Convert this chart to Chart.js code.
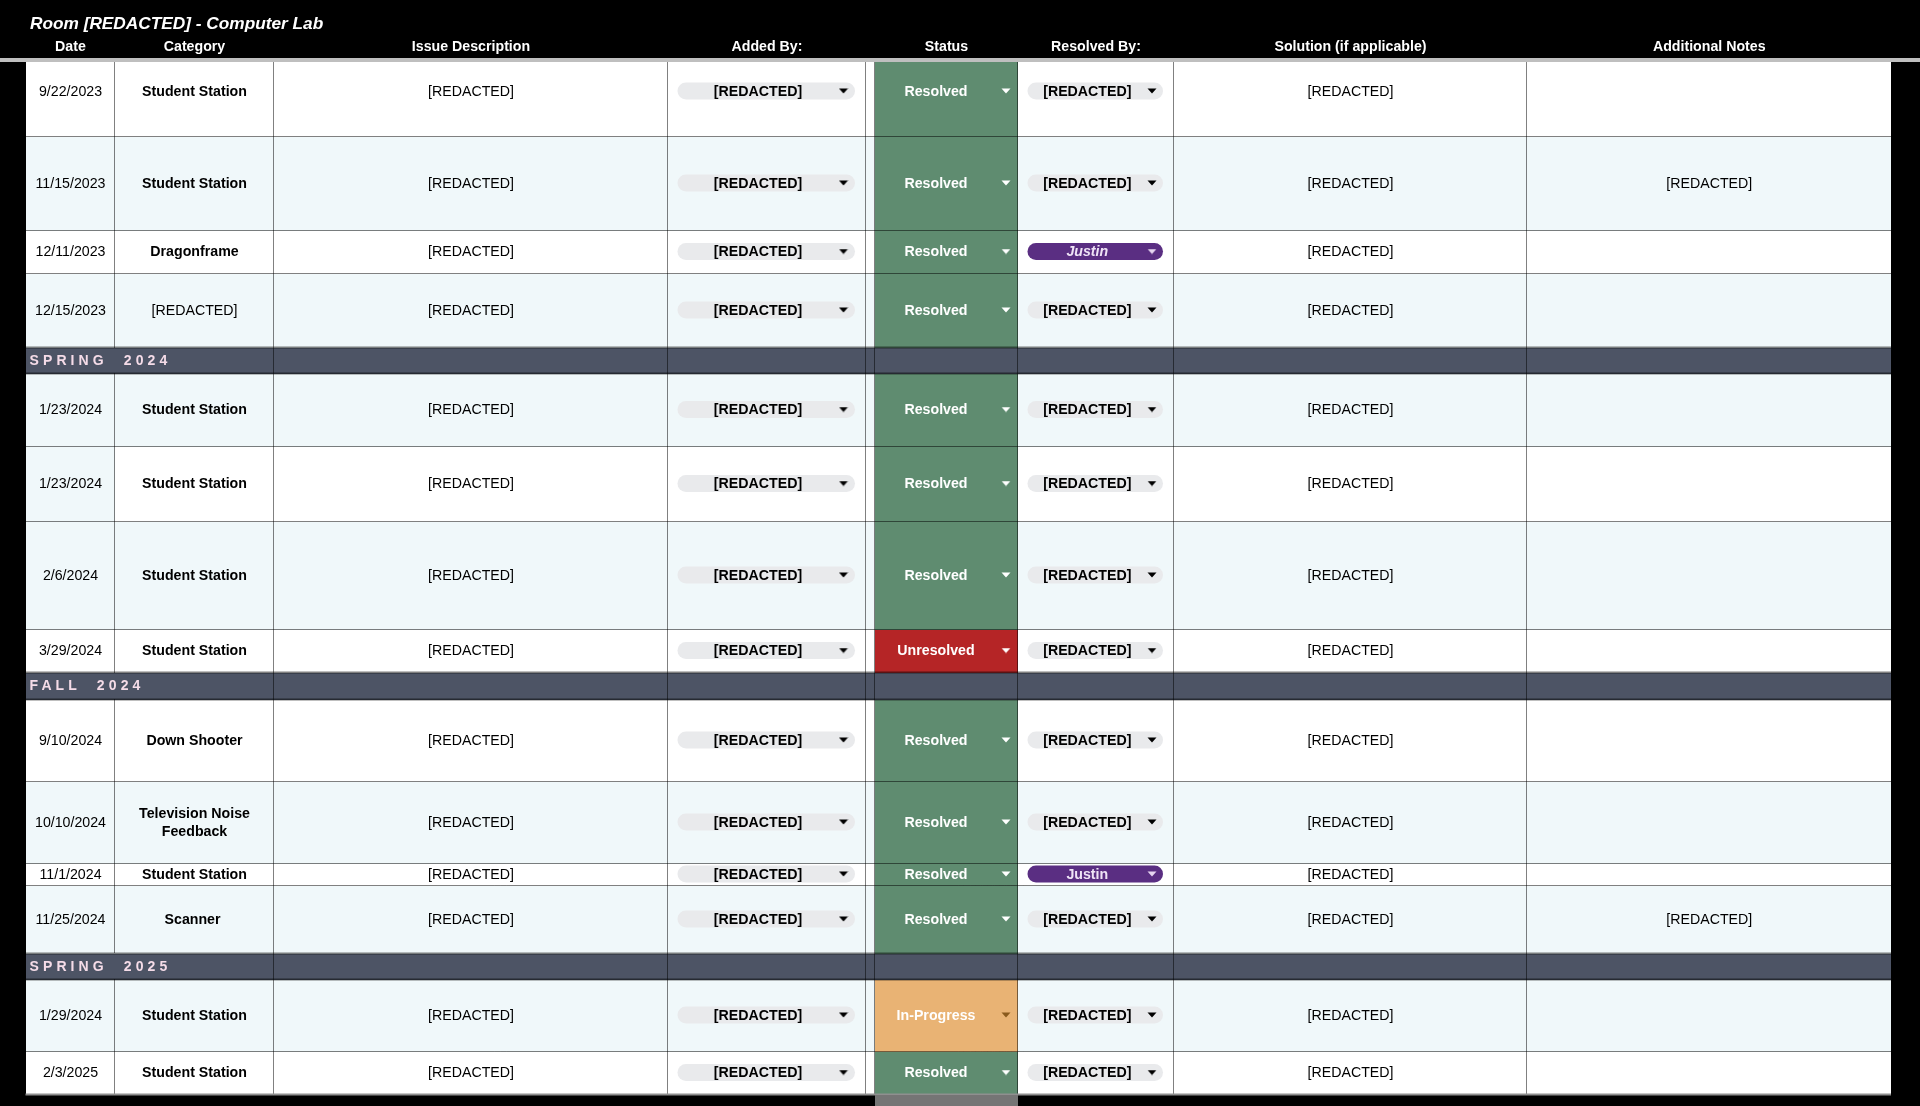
<!DOCTYPE html>
<html><head><meta charset="utf-8">
<style>html,body{margin:0;padding:0;background:#000}canvas{display:block}</style>
<script src="https://cdn.jsdelivr.net/npm/chart.js@4"></script></head>
<body><canvas id="c" width="1920" height="1106"></canvas>
<script>
// ---- table content ----
const title = 'Room [REDACTED] - Computer Lab';
const headers = ['Date','Category','Issue Description','Added By:','Status','Resolved By:','Solution (if applicable)','Additional Notes'];
const R = '[REDACTED]';
const sections = ['','','','','SPRING  2024','','','','','FALL  2024','','','','','SPRING  2025','',''];
const dates = ['9/22/2023','11/15/2023','12/11/2023','12/15/2023','','1/23/2024','1/23/2024','2/6/2024','3/29/2024','','9/10/2024','10/10/2024','11/1/2024','11/25/2024','','1/29/2024','2/3/2025'];
const categories = ['Student Station','Student Station','Dragonframe',R,'','Student Station','Student Station','Student Station','Student Station','','Down Shooter','Television Noise\nFeedback','Student Station','Scanner ','','Student Station','Student Station'];
const statuses = ['Resolved','Resolved','Resolved','Resolved','','Resolved','Resolved','Resolved','Unresolved','','Resolved','Resolved','Resolved','Resolved','','In-Progress','Resolved'];
const resolvedBy = [R,R,'Justin',R,'',R,R,R,R,'',R,R,'Justin',R,'',R,R];
const notes = ['',R,'','','','','','','','','','','',R,'','',''];
const italicNames = [2];           // rows whose name pill text is italic
const tintedRows = [1,3,5,7,11,13,15];
const tintedDateRows = [6];        // only the date cell is tinted

// ---- table geometry (column and row boundaries on the chart's axes) ----
const colEdges = [25.5,114.5,273.5,667.5,865.5,874.5,1017.5,1173.5,1526.5,1891];
const rowEdges = [46.5,136.5,230.5,273.5,347.5,373.5,446.5,521.5,629.5,672.5,699.5,781.5,863.5,885.5,953.5,979.5,1051.5,1094.5];
const chartW = 1920, chartH = 1106;

// ---- colours ----
const WHITE='#ffffff', TINT='#f0f8fa', SECTION='#4d5465', PILL='#e9eaec', PURPLE='#5a2e82';
const STATUS_FILL={'Resolved':'#5f8c70','Unresolved':'#b52526','In-Progress':'#e9b374'};
const FONT='"Liberation Sans", Arial, sans-serif';

const mid=(a,b)=>(a+b)/2;
const rowIdx=dates.map((_,i)=>i);
const isSection=i=>sections[i]!=='';
const rowCenter=i=>mid(rowEdges[i],rowEdges[i+1]);

function bar(data,color,thick,order,extra){
  return Object.assign({type:'bar',indexAxis:'y',grouped:false,barPercentage:10000,maxBarThickness:thick,
    data,backgroundColor:color,borderWidth:0,inflateAmount:0,order},extra||{});
}
function line(data,order,vertical,color,dash,width){
  return {type:'line',indexAxis:vertical?'y':'x',data,borderColor:color||'#000000',borderWidth:width||1,borderDash:dash||[1,1],
    pointRadius:0,fill:false,tension:0,spanGaps:false,order};
}
function arrow(color){
  const c=document.createElement('canvas');c.width=10;c.height=6;
  const g=c.getContext('2d');g.fillStyle=color;g.beginPath();g.moveTo(.5,.5);g.lineTo(9.5,.5);g.lineTo(5,5.5);g.closePath();g.fill();
  return c;
}
const datasets=[];
// cells: one bar dataset for each row, one floating bar per column (edges snapped to whole pixels)
rowIdx.forEach(i=>{
  const data=[],fills=[];
  const top=Math.ceil(rowEdges[i]),bottom=Math.ceil(rowEdges[i+1]);
  for(let c=0;c<colEdges.length-1;c++){
    data.push({x:[Math.ceil(colEdges[c]),Math.ceil(colEdges[c+1])],y:mid(top,bottom)});
    let f=tintedRows.includes(i)?TINT:WHITE;
    if(c===0&&tintedDateRows.includes(i))f=TINT;
    if(isSection(i))f=SECTION;
    else if(c===5)f=STATUS_FILL[statuses[i]];
    fills.push(f);
  }
  datasets.push(bar(data,fills,bottom-top,30));
});
// grid: dotted lines
rowEdges.forEach((y,k)=>{
  if(k===0)return;
  const last=k===rowEdges.length-1;
  const nearSection=isSection(k)||isSection(k-1);
  datasets.push(line([{x:colEdges[0],y},{x:colEdges[colEdges.length-1],y}],20,false,last?'#8f8f8f':null,last?[]:null,nearSection?2:1));
});
colEdges.forEach((x,c)=>{
  const pts=[];
  rowIdx.forEach(i=>{
    if(c===1&&isSection(i)){pts.push({x,y:null});return;}
    pts.push({x,y:rowEdges[i]},{x,y:rowEdges[i+1]});
  });
  if(c!==colEdges.length-1)datasets.push(line(pts,20,true));
});
// drop-down pills
const PILL_H=17;
const addPill=[677.5,855], resPill=[1027.5,1163];
const normalRows=rowIdx.filter(i=>!isSection(i));
const pillRows=normalRows.map(i=>({x:addPill,y:rowCenter(i)-.5}));
datasets.push(bar(pillRows,PILL,PILL_H,10,{borderRadius:8.5,borderSkipped:false}));
datasets.push(bar(normalRows.map(i=>({x:resPill,y:rowCenter(i)-.5})),normalRows.map(i=>resolvedBy[i]==='Justin'?PURPLE:PILL),PILL_H,10,{borderRadius:8.5,borderSkipped:false}));
// drop-down arrows
const addArrowX=843.5,resArrowX=1152,statusArrowX=1006;
const blackPts=[],whitePts=[],brownPts=[],palePts=[];
normalRows.forEach(i=>{
  const y=rowCenter(i)-.5;
  blackPts.push({x:addArrowX,y});
  (resolvedBy[i]==='Justin'?palePts:blackPts).push({x:resArrowX,y});
  (statuses[i]==='In-Progress'?brownPts:whitePts).push({x:statusArrowX,y});
});
[[blackPts,'#000000'],[whitePts,'#ffffff'],[brownPts,'#8a5a1c'],[palePts,'#e6d5f0']].forEach(([d,col])=>{
  datasets.push({type:'scatter',data:d,pointStyle:arrow(col),pointRadius:5,showLine:false,order:5});
});
// sheet header and frame
datasets.push(bar([{x:[0,chartW],y:29}],'#000000',58,2));
datasets.push(bar([{x:[0,chartW],y:60}],'#bfbfbf',4,2));
datasets.push(bar([{x:[Math.ceil(colEdges[5]),Math.ceil(colEdges[6])],y:mid(1095,chartH)}],'#757575',chartH-1095,2));

const tableText={id:'tableText',afterDatasetsDraw(chart){
  const {ctx,scales:{x,y}}=chart;
  const put=(t,vx,vy,font,color,align,spacing)=>{
    ctx.font=font+' '+FONT;ctx.fillStyle=color;ctx.textAlign=align||'center';ctx.textBaseline='middle';
    ctx.letterSpacing=spacing||'0px';
    ctx.fillText(t,x.getPixelForValue(vx),y.getPixelForValue(vy));
    ctx.letterSpacing='0px';
  };
  const colMid=c=>mid(colEdges[c],colEdges[c+1])+.5;
  ctx.save();
  put(title,30,24.5,'italic bold 17.25px','#ffffff','left');
  const hdrCols=[0,1,2,3,5,6,7,8];
  headers.forEach((h,k)=>put(h,colMid(hdrCols[k]),47,'bold 14.2px','#ffffff'));
  rowIdx.forEach(i=>{
    const cy=rowCenter(i)+.5;
    if(isSection(i)){put(sections[i],29.5,cy,'bold 14px','#f5dce8','left','4.1px');return;}
    put(dates[i],colMid(0),cy,'14.2px','#000000');
    const lines=categories[i].split('\n');
    lines.forEach((t,k)=>put(t,colMid(1),cy+(k-(lines.length-1)/2)*17.3,(categories[i]===R?'':'bold ')+'14.2px','#000000'));
    put(R,colMid(2),cy,'14.2px','#000000');
    put(R,758,cy,'bold 14.2px','#000000');
    put(statuses[i],936,cy,'bold 14.2px','#ffffff');
    const justin=resolvedBy[i]==='Justin';
    put(resolvedBy[i],1087.3,cy,(italicNames.includes(i)?'italic ':'')+'bold 14.2px',justin?'#efe4f6':'#000000');
    put(R,colMid(7),cy,'14.2px','#000000');
    if(notes[i])put(notes[i],colMid(8),cy,'14.2px','#000000');
  });
  ctx.restore();
}};

new Chart(document.getElementById('c'),{
  data:{datasets},
  options:{responsive:false,animation:false,devicePixelRatio:1,events:[],layout:{padding:0,autoPadding:false},
    plugins:{legend:{display:false},tooltip:{enabled:false},title:{display:false}},
    scales:{
      x:{type:'linear',display:false,offset:false,min:0,max:chartW},
      y:{type:'linear',display:false,offset:false,reverse:true,min:0,max:chartH}
    }},
  plugins:[tableText]
});
</script></body></html>
